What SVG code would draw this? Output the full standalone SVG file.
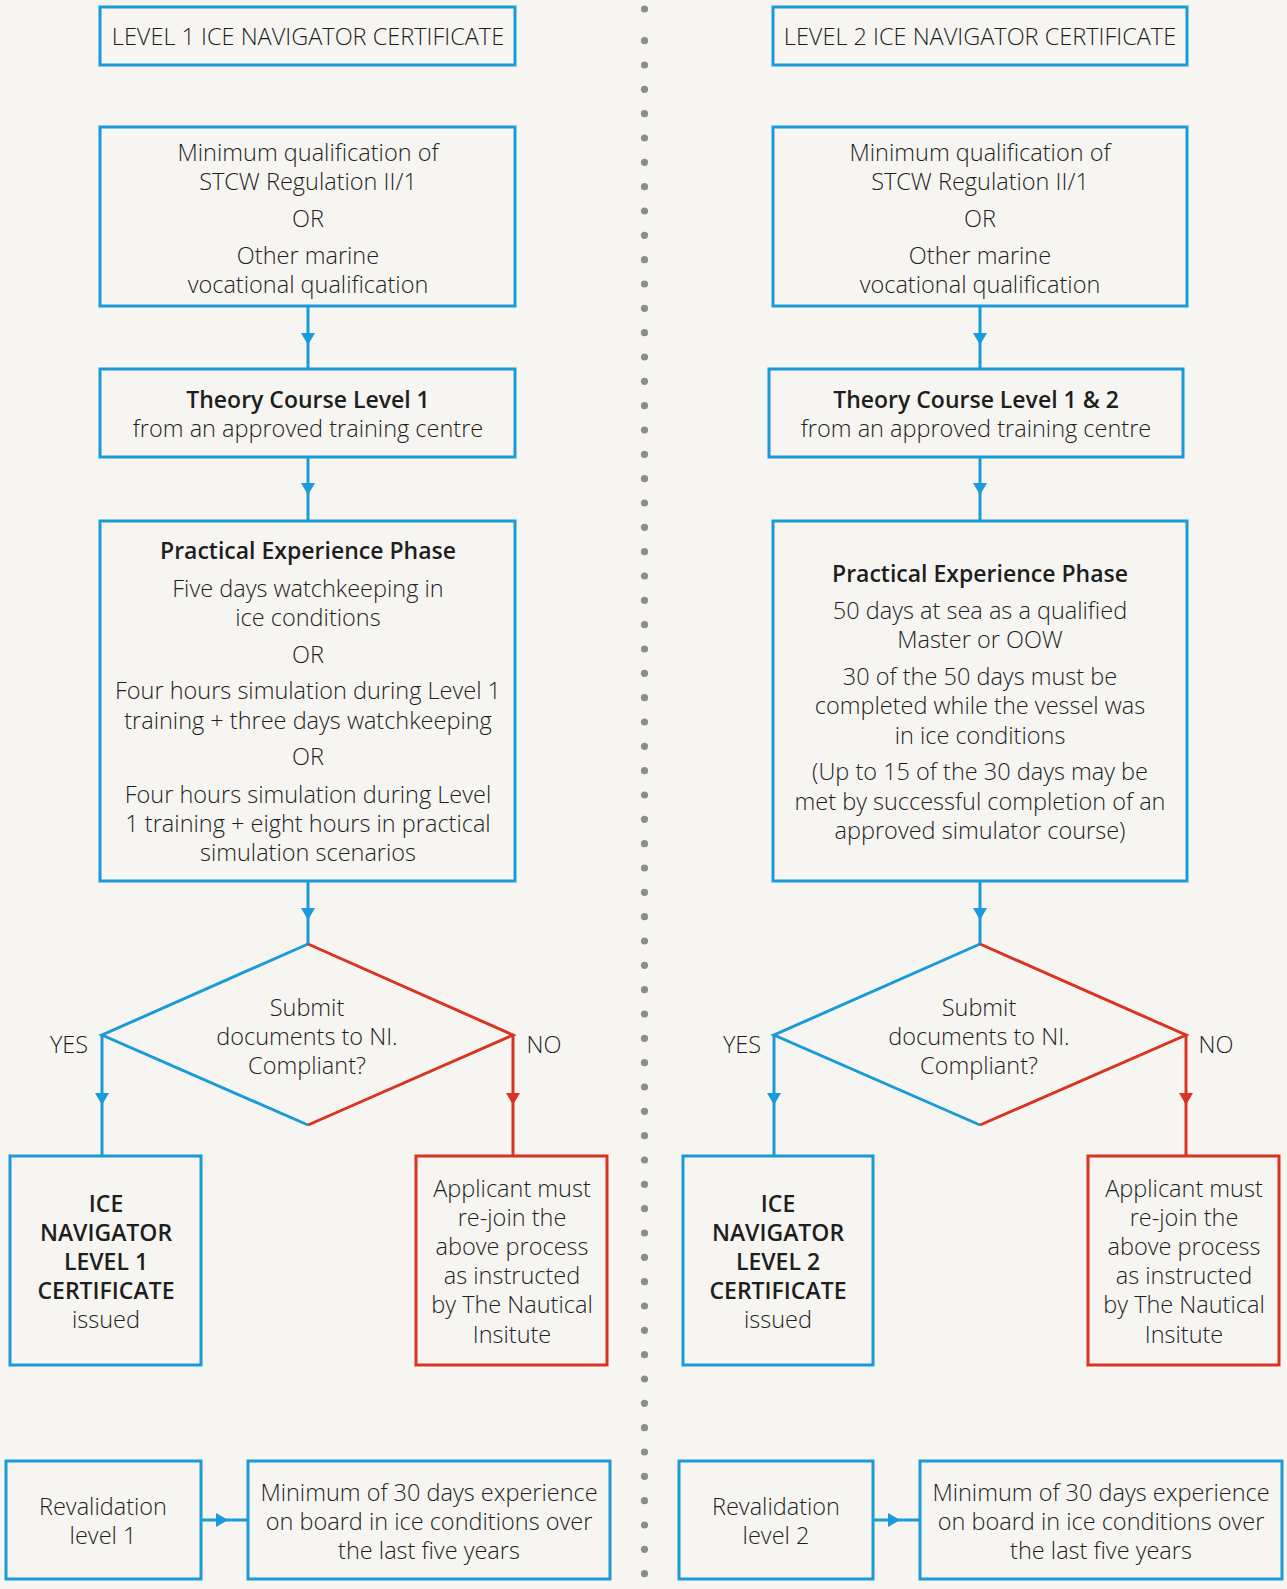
<svg xmlns="http://www.w3.org/2000/svg" width="1287" height="1589" viewBox="0 0 1287 1589">
<defs>
<style>
.bg{fill:#f6f5f1}
.b{fill:none;stroke:#1a9ad8;stroke-width:3}
.r{fill:none;stroke:#d8341f;stroke-width:3}
text{font-family:"Open Sans","Liberation Sans",sans-serif;font-weight:300;font-size:23.5px;fill:#1e1e1e;text-anchor:middle}
.bold{font-weight:600;font-size:23px}
.dot{fill:#8c8c8c}
</style>
<marker id="ab" viewBox="0 0 12 14" refX="12" refY="7" markerWidth="12" markerHeight="14" markerUnits="userSpaceOnUse" orient="auto"><path d="M0,0 L12,7 L0,14 Z" fill="#1a9ad8"/></marker>
<marker id="ar" viewBox="0 0 12 14" refX="12" refY="7" markerWidth="12" markerHeight="14" markerUnits="userSpaceOnUse" orient="auto"><path d="M0,0 L12,7 L0,14 Z" fill="#d8341f"/></marker>
</defs>
<rect class="bg" x="0" y="0" width="1287" height="1589"/>

<g id="divider">
<circle class="dot" cx="644.5" cy="9" r="3.6"/>
<circle class="dot" cx="644.5" cy="40.7" r="3.6"/>
<circle class="dot" cx="644.5" cy="65" r="3.6"/>
<circle class="dot" cx="644.5" cy="89.3" r="3.6"/>
<circle class="dot" cx="644.5" cy="113.7" r="3.6"/>
<circle class="dot" cx="644.5" cy="138" r="3.6"/>
<circle class="dot" cx="644.5" cy="162.3" r="3.6"/>
<circle class="dot" cx="644.5" cy="186.7" r="3.6"/>
<circle class="dot" cx="644.5" cy="211" r="3.6"/>
<circle class="dot" cx="644.5" cy="235.3" r="3.6"/>
<circle class="dot" cx="644.5" cy="259.7" r="3.6"/>
<circle class="dot" cx="644.5" cy="284" r="3.6"/>
<circle class="dot" cx="644.5" cy="308.3" r="3.6"/>
<circle class="dot" cx="644.5" cy="332.7" r="3.6"/>
<circle class="dot" cx="644.5" cy="357" r="3.6"/>
<circle class="dot" cx="644.5" cy="381.3" r="3.6"/>
<circle class="dot" cx="644.5" cy="405.7" r="3.6"/>
<circle class="dot" cx="644.5" cy="430" r="3.6"/>
<circle class="dot" cx="644.5" cy="454.3" r="3.6"/>
<circle class="dot" cx="644.5" cy="478.7" r="3.6"/>
<circle class="dot" cx="644.5" cy="503" r="3.6"/>
<circle class="dot" cx="644.5" cy="527.3" r="3.6"/>
<circle class="dot" cx="644.5" cy="551.7" r="3.6"/>
<circle class="dot" cx="644.5" cy="576" r="3.6"/>
<circle class="dot" cx="644.5" cy="600.3" r="3.6"/>
<circle class="dot" cx="644.5" cy="624.7" r="3.6"/>
<circle class="dot" cx="644.5" cy="649" r="3.6"/>
<circle class="dot" cx="644.5" cy="673.3" r="3.6"/>
<circle class="dot" cx="644.5" cy="697.7" r="3.6"/>
<circle class="dot" cx="644.5" cy="722" r="3.6"/>
<circle class="dot" cx="644.5" cy="746.3" r="3.6"/>
<circle class="dot" cx="644.5" cy="770.7" r="3.6"/>
<circle class="dot" cx="644.5" cy="795" r="3.6"/>
<circle class="dot" cx="644.5" cy="819.3" r="3.6"/>
<circle class="dot" cx="644.5" cy="843.7" r="3.6"/>
<circle class="dot" cx="644.5" cy="868" r="3.6"/>
<circle class="dot" cx="644.5" cy="892.3" r="3.6"/>
<circle class="dot" cx="644.5" cy="916.7" r="3.6"/>
<circle class="dot" cx="644.5" cy="941" r="3.6"/>
<circle class="dot" cx="644.5" cy="965.3" r="3.6"/>
<circle class="dot" cx="644.5" cy="989.7" r="3.6"/>
<circle class="dot" cx="644.5" cy="1014" r="3.6"/>
<circle class="dot" cx="644.5" cy="1038.3" r="3.6"/>
<circle class="dot" cx="644.5" cy="1062.7" r="3.6"/>
<circle class="dot" cx="644.5" cy="1087" r="3.6"/>
<circle class="dot" cx="644.5" cy="1111.3" r="3.6"/>
<circle class="dot" cx="644.5" cy="1135.7" r="3.6"/>
<circle class="dot" cx="644.5" cy="1160" r="3.6"/>
<circle class="dot" cx="644.5" cy="1184.3" r="3.6"/>
<circle class="dot" cx="644.5" cy="1208.7" r="3.6"/>
<circle class="dot" cx="644.5" cy="1233" r="3.6"/>
<circle class="dot" cx="644.5" cy="1257.3" r="3.6"/>
<circle class="dot" cx="644.5" cy="1281.7" r="3.6"/>
<circle class="dot" cx="644.5" cy="1306" r="3.6"/>
<circle class="dot" cx="644.5" cy="1330.3" r="3.6"/>
<circle class="dot" cx="644.5" cy="1354.7" r="3.6"/>
<circle class="dot" cx="644.5" cy="1379" r="3.6"/>
<circle class="dot" cx="644.5" cy="1403.3" r="3.6"/>
<circle class="dot" cx="644.5" cy="1427.7" r="3.6"/>
<circle class="dot" cx="644.5" cy="1452" r="3.6"/>
<circle class="dot" cx="644.5" cy="1476.3" r="3.6"/>
<circle class="dot" cx="644.5" cy="1500.7" r="3.6"/>
<circle class="dot" cx="644.5" cy="1525" r="3.6"/>
<circle class="dot" cx="644.5" cy="1549.3" r="3.6"/>
<circle class="dot" cx="644.5" cy="1573.7" r="3.6"/>
</g>

<g id="connectors">
<path class="b" d="M308,306 L308,345 L308,369" marker-mid="url(#ab)"/>
<path class="b" d="M308,457 L308,495 L308,521" marker-mid="url(#ab)"/>
<path class="b" d="M308,881 L308,920 L308,944" marker-mid="url(#ab)"/>
<path class="b" d="M102,1035 L102,1105 L102,1155" marker-mid="url(#ab)"/>
<path class="r" d="M513,1035 L513,1105 L513,1155" marker-mid="url(#ar)"/>
<path class="b" d="M201,1520 L228,1520 L248,1520" marker-mid="url(#ab)"/>

<path class="b" d="M980,306 L980,345 L980,369" marker-mid="url(#ab)"/>
<path class="b" d="M980,457 L980,495 L980,521" marker-mid="url(#ab)"/>
<path class="b" d="M980,881 L980,920 L980,944" marker-mid="url(#ab)"/>
<path class="b" d="M774,1035 L774,1105 L774,1155" marker-mid="url(#ab)"/>
<path class="r" d="M1186,1035 L1186,1105 L1186,1155" marker-mid="url(#ar)"/>
<path class="b" d="M873,1520 L900,1520 L920,1520" marker-mid="url(#ab)"/>
</g>

<g id="l1-title">
<rect class="b" x="100" y="7" width="415" height="58"/>
<text x="308" y="45">LEVEL 1 ICE NAVIGATOR CERTIFICATE</text>
</g>
<g id="l1-qual">
<rect class="b" x="100" y="127" width="415" height="179"/>
<text x="308" y="161">Minimum qualification of</text>
<text x="308" y="190">STCW Regulation II/1</text>
<text x="308" y="227">OR</text>
<text x="308" y="264">Other marine</text>
<text x="308" y="293">vocational qualification</text>
</g>
<g id="l1-theory">
<rect class="b" x="100" y="369" width="415" height="88"/>
<text class="bold" x="308" y="408">Theory Course Level 1</text>
<text x="308" y="437">from an approved training centre</text>
</g>
<g id="l1-practical">
<rect class="b" x="100" y="521" width="415" height="360"/>
<text class="bold" x="308" y="559">Practical Experience Phase</text>
<text x="308" y="596.5">Five days watchkeeping in</text>
<text x="308" y="626">ice conditions</text>
<text x="308" y="663">OR</text>
<text x="308" y="699">Four hours simulation during Level 1</text>
<text x="308" y="729">training + three days watchkeeping</text>
<text x="308" y="765">OR</text>
<text x="308" y="803">Four hours simulation during Level</text>
<text x="308" y="832">1 training + eight hours in practical</text>
<text x="308" y="861">simulation scenarios</text>
</g>
<g id="l1-decision">
<path class="b" d="M308,944 L102,1035 L308,1125"/>
<path class="r" d="M308,944 L513,1035 L308,1125"/>
<text x="307" y="1016">Submit</text>
<text x="307" y="1045">documents to NI.</text>
<text x="307" y="1074">Compliant?</text>
<text x="69" y="1053">YES</text>
<text x="544" y="1053">NO</text>
</g>
<g id="l1-cert">
<rect class="b" x="10" y="1156" width="191" height="209"/>
<text class="bold" x="106" y="1212">ICE</text>
<text class="bold" x="106" y="1241">NAVIGATOR</text>
<text class="bold" x="106" y="1270">LEVEL 1</text>
<text class="bold" x="106" y="1299">CERTIFICATE</text>
<text x="106" y="1328">issued</text>
</g>
<g id="l1-rejoin">
<rect class="r" x="416" y="1156" width="191" height="209"/>
<text x="512" y="1197">Applicant must</text>
<text x="512" y="1226">re-join the</text>
<text x="512" y="1255">above process</text>
<text x="512" y="1284">as instructed</text>
<text x="512" y="1313">by The Nautical</text>
<text x="512" y="1343">Insitute</text>
</g>
<g id="l1-reval">
<rect class="b" x="6" y="1461" width="195" height="118"/>
<text x="103" y="1515">Revalidation</text>
<text x="103" y="1544">level 1</text>
</g>
<g id="l1-min">
<rect class="b" x="248" y="1461" width="362" height="118"/>
<text x="429" y="1501">Minimum of 30 days experience</text>
<text x="429" y="1530">on board in ice conditions over</text>
<text x="429" y="1559">the last five years</text>
</g>

<g id="l2-title">
<rect class="b" x="773" y="7" width="414" height="58"/>
<text x="980" y="45">LEVEL 2 ICE NAVIGATOR CERTIFICATE</text>
</g>
<g id="l2-qual">
<rect class="b" x="773" y="127" width="414" height="179"/>
<text x="980" y="161">Minimum qualification of</text>
<text x="980" y="190">STCW Regulation II/1</text>
<text x="980" y="227">OR</text>
<text x="980" y="264">Other marine</text>
<text x="980" y="293">vocational qualification</text>
</g>
<g id="l2-theory">
<rect class="b" x="769" y="369" width="414" height="88"/>
<text class="bold" x="976" y="408">Theory Course Level 1 &amp; 2</text>
<text x="976" y="437">from an approved training centre</text>
</g>
<g id="l2-practical">
<rect class="b" x="773" y="521" width="414" height="360"/>
<text class="bold" x="980" y="582">Practical Experience Phase</text>
<text x="980" y="618.5">50 days at sea as a qualified</text>
<text x="980" y="648">Master or OOW</text>
<text x="980" y="685">30 of the 50 days must be</text>
<text x="980" y="714">completed while the vessel was</text>
<text x="980" y="744">in ice conditions</text>
<text x="980" y="780">(Up to 15 of the 30 days may be</text>
<text x="980" y="810">met by successful completion of an</text>
<text x="980" y="839">approved simulator course)</text>
</g>
<g id="l2-decision">
<path class="b" d="M980,944 L774,1035 L980,1125"/>
<path class="r" d="M980,944 L1186,1035 L980,1125"/>
<text x="979" y="1016">Submit</text>
<text x="979" y="1045">documents to NI.</text>
<text x="979" y="1074">Compliant?</text>
<text x="742" y="1053">YES</text>
<text x="1216" y="1053">NO</text>
</g>
<g id="l2-cert">
<rect class="b" x="683" y="1156" width="190" height="209"/>
<text class="bold" x="778" y="1212">ICE</text>
<text class="bold" x="778" y="1241">NAVIGATOR</text>
<text class="bold" x="778" y="1270">LEVEL 2</text>
<text class="bold" x="778" y="1299">CERTIFICATE</text>
<text x="778" y="1328">issued</text>
</g>
<g id="l2-rejoin">
<rect class="r" x="1088" y="1156" width="191" height="209"/>
<text x="1184" y="1197">Applicant must</text>
<text x="1184" y="1226">re-join the</text>
<text x="1184" y="1255">above process</text>
<text x="1184" y="1284">as instructed</text>
<text x="1184" y="1313">by The Nautical</text>
<text x="1184" y="1343">Insitute</text>
</g>
<g id="l2-reval">
<rect class="b" x="679" y="1461" width="194" height="118"/>
<text x="776" y="1515">Revalidation</text>
<text x="776" y="1544">level 2</text>
</g>
<g id="l2-min">
<rect class="b" x="920" y="1461" width="362" height="118"/>
<text x="1101" y="1501">Minimum of 30 days experience</text>
<text x="1101" y="1530">on board in ice conditions over</text>
<text x="1101" y="1559">the last five years</text>
</g>
</svg>
